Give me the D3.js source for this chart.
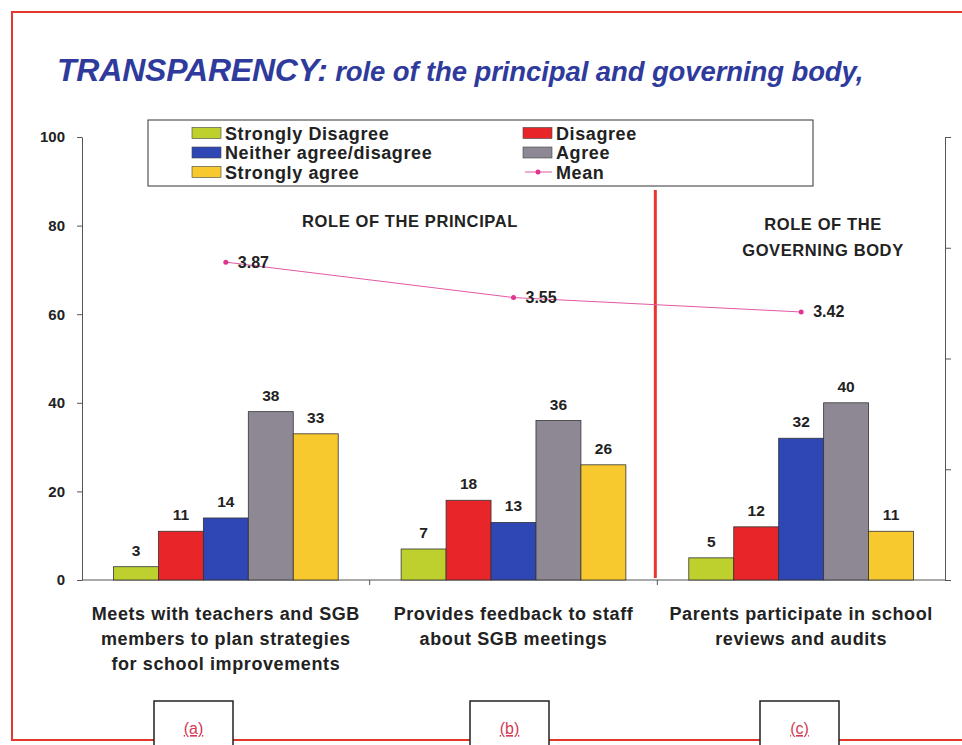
<!DOCTYPE html>
<meta charset="utf-8">
<body style="margin:0;background:#fff">
<style>
  text { font-family: "Liberation Sans", Arial, sans-serif; }
  .axis path, .axis line { stroke: #555; }
  .axis text { font-size: 15px; font-weight: bold; fill: #222; font-family: "Liberation Sans", Arial, sans-serif; }
</style>
<script src="https://d3js.org/d3.v7.min.js"></script>
<script>
var categories = [
  ["Meets with teachers and SGB", "members to plan strategies", "for school improvements"],
  ["Provides feedback to staff", "about SGB meetings"],
  ["Parents participate in school", "reviews and audits"]
];
var catKeys = ["a", "b", "c"];
var series = ["Strongly Disagree", "Disagree", "Neither agree/disagree", "Agree", "Strongly agree"];
var colours = ["#bdd02e", "#e8262a", "#2f47b5", "#8e8894", "#f8c92e"];
var values = [
  [3, 11, 14, 38, 33],
  [7, 18, 13, 36, 26],
  [5, 12, 32, 40, 11]
];
var means = [3.87, 3.55, 3.42];
var leftTicks = [0, 20, 40, 60, 80, 100];

var width = 962, height = 745;
var svg = d3.select("body").append("svg")
  .attr("width", width)
  .attr("height", height);

// red frame
svg.append("path")
  .attr("d", "M962,12 H12 V740 H962")
  .attr("fill", "none")
  .attr("stroke", "#e0392b")
  .attr("stroke-width", 2);

// title
var title = svg.append("text").attr("x", 57).attr("y", 81)
  .attr("fill", "#2f3b9c").style("font-style", "italic").style("font-weight", "bold");
title.append("tspan").style("font-size", "32px").attr("letter-spacing", "-0.2").text("TRANSPARENCY:");
title.append("tspan").style("font-size", "27.5px").attr("letter-spacing", "-0.1").text(" role of the principal and governing body,");

var x0 = d3.scaleBand().domain(catKeys).range([82, 945]);
var x1 = d3.scaleBand().domain(series).range([0, x0.bandwidth()]).paddingOuter(0.7);
var y = d3.scaleLinear().domain([0, 100]).range([580, 137]);
var y2 = d3.scaleLinear().domain([1, 5]).range([580, 137]);

// axes
svg.append("g").attr("class", "axis")
  .attr("transform", "translate(82,0)")
  .call(d3.axisLeft(y).tickValues(leftTicks).tickSize(5).tickPadding(12).tickSizeOuter(0));

svg.append("g").attr("class", "axis")
  .attr("transform", "translate(945,0)")
  .call(d3.axisRight(y2).ticks(4).tickSize(6).tickFormat("").tickSizeOuter(0));

var xa = svg.append("g").attr("class", "axis");
xa.append("line").attr("x1", 82).attr("x2", 945).attr("y1", 580).attr("y2", 580);
xa.selectAll(".tk").data(catKeys.slice(1)).enter().append("line")
  .attr("x1", function(d) { return x0(d); }).attr("x2", function(d) { return x0(d); })
  .attr("y1", 580).attr("y2", 585);

// bars
var groups = svg.append("g").selectAll("g")
  .data(values).enter().append("g")
  .attr("transform", function(d, i) { return "translate(" + x0(catKeys[i]) + ",0)"; });

groups.selectAll("rect")
  .data(function(d) { return d; }).enter().append("rect")
  .attr("x", function(d, i) { return x1(series[i]); })
  .attr("y", function(d) { return y(d); })
  .attr("width", x1.bandwidth())
  .attr("height", function(d) { return y(0) - y(d); })
  .attr("fill", function(d, i) { return colours[i]; })
  .attr("stroke", "#333")
  .attr("stroke-width", 0.8);

groups.selectAll("text")
  .data(function(d) { return d; }).enter().append("text")
  .attr("x", function(d, i) { return x1(series[i]) + x1.bandwidth() / 2; })
  .attr("y", function(d) { return y(d) - 11; })
  .attr("text-anchor", "middle")
  .style("font-size", "15.5px").style("font-weight", "bold").attr("fill", "#222")
  .text(function(d) { return d; });

// divider
var divX = x0("c") - 2;
svg.append("line")
  .attr("x1", divX).attr("x2", divX).attr("y1", 190).attr("y2", 578)
  .attr("stroke", "#e8352f").attr("stroke-width", 3);

// section labels
function section(txt, cx, cy) {
  svg.append("text").attr("x", cx).attr("y", cy).attr("text-anchor", "middle")
    .style("font-size", "16.5px").style("font-weight", "bold").attr("fill", "#222")
    .attr("letter-spacing", "0.6")
    .text(txt);
}
section("ROLE OF THE PRINCIPAL", 410, 227);
section("ROLE OF THE", 823, 230);
section("GOVERNING BODY", 823, 256);

// mean line
var cx = function(d, i) { return x0(catKeys[i]) + x0.bandwidth() / 2; };
svg.append("path")
  .datum(means)
  .attr("d", d3.line().x(cx).y(function(d) { return y2(d); }))
  .attr("fill", "none").attr("stroke", "#e25aa2").attr("stroke-width", 1);
svg.selectAll(".mpt").data(means).enter().append("circle")
  .attr("cx", cx).attr("cy", function(d) { return y2(d); }).attr("r", 2.5)
  .attr("fill", "#e0358f");
svg.selectAll(".mlb").data(means).enter().append("text")
  .attr("x", function(d, i) { return cx(d, i) + 12; })
  .attr("y", function(d) { return y2(d) + 5.5; })
  .style("font-size", "16px").style("font-weight", "bold").attr("fill", "#222")
  .text(function(d) { return d.toFixed(2); });

// category labels
categories.forEach(function(lines, i) {
  var t = svg.append("text").attr("text-anchor", "middle")
    .style("font-size", "18px").style("font-weight", "bold").attr("fill", "#222")
    .attr("letter-spacing", "0.6");
  lines.forEach(function(l, j) {
    t.append("tspan").attr("x", x0(catKeys[i]) + x0.bandwidth() / 2)
      .attr("y", 620 + j * 25).text(l);
  });
});

// legend
svg.append("rect").attr("x", 148).attr("y", 120).attr("width", 665).attr("height", 66)
  .attr("fill", "#fff").attr("stroke", "#333").attr("stroke-width", 1);
var legItems = series.map(function(s, i) { return {name: s, colour: colours[i]}; });
legItems.push({name: "Mean", colour: null});
var leg = svg.selectAll(".leg").data(legItems).enter().append("g")
  .attr("transform", function(d, i) {
    return "translate(" + (i % 2 === 0 ? 192 : 523) + "," + (133 + Math.floor(i / 2) * 19.5) + ")";
  });
leg.filter(function(d) { return d.colour; }).append("rect")
  .attr("x", 0).attr("y", -5.5).attr("width", 29).attr("height", 11)
  .attr("fill", function(d) { return d.colour; }).attr("stroke", "#444").attr("stroke-width", 0.6);
leg.filter(function(d) { return !d.colour; }).append("line")
  .attr("x1", 2).attr("x2", 29).attr("y1", 0).attr("y2", 0)
  .attr("stroke", "#e25aa2").attr("stroke-width", 1);
leg.filter(function(d) { return !d.colour; }).append("circle")
  .attr("cx", 15).attr("cy", 0).attr("r", 2.5).attr("fill", "#e0358f");
leg.append("text").attr("x", 33).attr("y", 6.5)
  .style("font-size", "18px").style("font-weight", "bold").attr("fill", "#222")
  .attr("letter-spacing", "0.6")
  .text(function(d) { return d.name; });

// panel tags
var tags = [{k: "(a)", x: 154}, {k: "(b)", x: 470}, {k: "(c)", x: 760}];
var tg = svg.selectAll(".tag").data(tags).enter().append("g");
tg.append("rect").attr("x", function(d) { return d.x; }).attr("y", 701)
  .attr("width", 79).attr("height", 60).attr("fill", "#fff")
  .attr("stroke", "#222").attr("stroke-width", 1.5);
tg.append("text").attr("x", function(d) { return d.x + 39.5; }).attr("y", 734)
  .attr("text-anchor", "middle").style("font-size", "16px")
  .style("text-decoration", "underline").attr("fill", "#d23a55")
  .text(function(d) { return d.k; });
</script>
</body>
